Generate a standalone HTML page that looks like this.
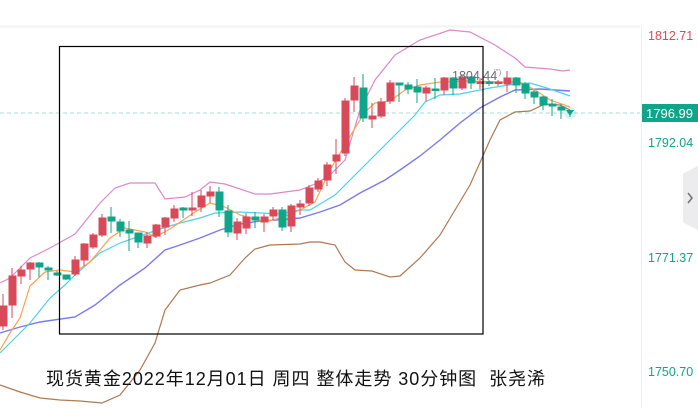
<!DOCTYPE html>
<html><head><meta charset="utf-8"><style>
html,body{margin:0;padding:0;background:#fff;width:698px;height:408px;overflow:hidden}
svg{display:block}
</style></head><body>
<svg width="698" height="408" viewBox="0 0 698 408" xmlns="http://www.w3.org/2000/svg" font-family="Liberation Sans, Noto Sans CJK SC, sans-serif">
<rect x="0" y="0" width="698" height="26" fill="#fff"/>
<line x1="0" y1="26.5" x2="640" y2="26.5" stroke="#f3f3f5" stroke-width="2"/>
<line x1="641.5" y1="26" x2="641.5" y2="408" stroke="#eeeef0"/>
<line x1="0" y1="113" x2="640" y2="113" stroke="#b6e6dc" stroke-dasharray="4,3" stroke-width="1.2"/>
<polyline fill="none" stroke="#dd88cc" stroke-width="1.2" points="0,283 10,278 30,258 50,248 75,234 100,203 115,188 130,183 155,183 165,199 185,197 200,190 210,182 225,184 255,194 270,194 300,190 315,184 330,175 345,160 360,110 375,80 395,55 420,40 450,30 470,32 495,45 515,58 525,67 550,69 563,71 570,70"/>
<polyline fill="none" stroke="#b07850" stroke-width="1.2" points="0,385 20,392 40,398 60,400 80,401 102,403 120,395 140,370 155,343 165,310 180,290 200,285 210,283 230,275 245,258 255,249 270,245 300,244 310,242 320,242 335,245 345,262 355,270 372,271 390,277 400,276 420,258 440,235 455,210 470,185 490,140 500,120 515,112 530,111 545,104 560,105 570,110"/>
<polyline fill="none" stroke="#7a7af0" stroke-width="1.4" points="0,333 20,327 40,322 75,317 95,305 120,285 145,268 165,250 180,245 200,238 220,230 240,224 260,221 290,219 300,218 320,212 340,205 360,193 385,180 400,170 420,156 440,140 460,123 480,108 500,97 515,90 540,89 570,91"/>
<polyline fill="none" stroke="#4fd0e6" stroke-width="1.2" points="0,353 10,343 30,323 50,298 65,285 75,275 100,253 120,243 140,236 160,229 180,223 200,218 215,213 240,212 260,213 280,214 300,210 310,210 335,195 350,180 370,160 385,145 400,130 415,115 425,102 440,95 460,94 490,88 515,84 530,83 550,89 570,96"/>
<polyline fill="none" stroke="#ffa050" stroke-width="1.2" points="0,350 10,333 20,318 30,286 45,272 60,270 75,272 90,262 110,238 125,228 145,232 155,237 170,229 195,212 210,203 225,207 240,215 265,222 280,218 300,210 315,202 330,170 345,145 355,128 365,112 375,103 390,101 405,90 420,85 440,82 470,81 500,82 520,82 535,90 550,100 570,107"/>
<g id="c">
<g stroke="#d84a5a" fill="#d84a5a">
<line x1="3" y1="294" x2="3" y2="330"/><rect x="0" y="306" width="7" height="20"/>
<line x1="12" y1="268" x2="12" y2="318"/><rect x="9" y="276" width="7" height="29"/>
<line x1="21" y1="266" x2="21" y2="284"/><rect x="18" y="270" width="7" height="6"/>
<line x1="30" y1="262" x2="30" y2="280"/><rect x="27" y="263" width="7" height="6"/>
<line x1="75" y1="256" x2="75" y2="276"/><rect x="72" y="260" width="7" height="14"/>
<line x1="84" y1="243" x2="84" y2="266"/><rect x="81" y="244" width="7" height="16"/>
<line x1="93" y1="233" x2="93" y2="249"/><rect x="90" y="235" width="7" height="12"/>
<line x1="102" y1="214" x2="102" y2="237"/><rect x="99" y="218" width="7" height="17"/>
<line x1="147" y1="232" x2="147" y2="248"/><rect x="144" y="236" width="7" height="7"/>
<line x1="156" y1="224" x2="156" y2="238"/><rect x="153" y="225" width="7" height="11"/>
<line x1="165" y1="217" x2="165" y2="235"/><rect x="162" y="218" width="7" height="9"/>
<line x1="174" y1="205" x2="174" y2="222"/><rect x="171" y="209" width="7" height="9"/>
<line x1="192" y1="192" x2="192" y2="216"/><rect x="189" y="208" width="7" height="2"/>
<line x1="201" y1="190" x2="201" y2="212"/><rect x="198" y="196" width="7" height="11"/>
<line x1="210" y1="186" x2="210" y2="203"/><rect x="207" y="192" width="7" height="4"/>
<line x1="237" y1="218" x2="237" y2="240"/><rect x="234" y="222" width="7" height="11"/>
<line x1="246" y1="213" x2="246" y2="234"/><rect x="243" y="217" width="7" height="11"/>
<line x1="264" y1="214" x2="264" y2="232"/><rect x="261" y="217" width="7" height="5"/>
<line x1="273" y1="207" x2="273" y2="220"/><rect x="270" y="210" width="7" height="6"/>
<line x1="291" y1="204" x2="291" y2="232"/><rect x="288" y="206" width="7" height="20"/>
<line x1="300" y1="200" x2="300" y2="215"/><rect x="297" y="204" width="7" height="3"/>
<line x1="309" y1="185" x2="309" y2="206"/><rect x="306" y="188" width="7" height="15"/>
<line x1="318" y1="178" x2="318" y2="192"/><rect x="315" y="181" width="7" height="8"/>
<line x1="327" y1="162" x2="327" y2="186"/><rect x="324" y="165" width="7" height="15"/>
<line x1="336" y1="139" x2="336" y2="174"/><rect x="333" y="155" width="7" height="6"/>
<line x1="345" y1="98" x2="345" y2="156"/><rect x="342" y="101" width="7" height="52"/>
<line x1="354" y1="77" x2="354" y2="112"/><rect x="351" y="86" width="7" height="14"/>
<line x1="372" y1="103" x2="372" y2="128"/><rect x="369" y="116" width="7" height="3"/>
<line x1="381" y1="98" x2="381" y2="118"/><rect x="378" y="102" width="7" height="14"/>
<line x1="390" y1="80" x2="390" y2="104"/><rect x="387" y="83" width="7" height="18"/>
<line x1="426" y1="86" x2="426" y2="101"/><rect x="423" y="88" width="7" height="5"/>
<line x1="444" y1="77" x2="444" y2="95"/><rect x="441" y="78" width="7" height="12"/>
<line x1="462" y1="75" x2="462" y2="90"/><rect x="459" y="77" width="7" height="11"/>
<line x1="480" y1="78" x2="480" y2="89"/><rect x="477" y="82" width="7" height="1.5"/>
<line x1="498" y1="80" x2="498" y2="86"/><rect x="495" y="82" width="7" height="1.5"/>
<line x1="507" y1="71" x2="507" y2="92"/><rect x="504" y="78" width="7" height="6"/>
</g>
<g stroke="#0fa58a" fill="#0fa58a">
<line x1="39" y1="262" x2="39" y2="277"/><rect x="36" y="263" width="7" height="4"/>
<line x1="48" y1="266" x2="48" y2="280"/><rect x="45" y="268" width="7" height="2"/>
<line x1="57" y1="271" x2="57" y2="276"/><rect x="54" y="273" width="7" height="2"/>
<line x1="66" y1="275" x2="66" y2="280"/><rect x="63" y="275" width="7" height="4"/>
<line x1="111" y1="207" x2="111" y2="233"/><rect x="108" y="217" width="7" height="4"/>
<line x1="120" y1="219" x2="120" y2="237"/><rect x="117" y="222" width="7" height="9"/>
<line x1="129" y1="221" x2="129" y2="251"/><rect x="126" y="230" width="7" height="3"/>
<line x1="138" y1="233" x2="138" y2="248"/><rect x="135" y="233" width="7" height="9"/>
<line x1="183" y1="207" x2="183" y2="218"/><rect x="180" y="208" width="7" height="2"/>
<line x1="219" y1="187" x2="219" y2="217"/><rect x="216" y="192" width="7" height="18"/>
<line x1="228" y1="205" x2="228" y2="237"/><rect x="225" y="211" width="7" height="21"/>
<line x1="255" y1="212" x2="255" y2="228"/><rect x="252" y="217" width="7" height="3"/>
<line x1="282" y1="207" x2="282" y2="231"/><rect x="279" y="210" width="7" height="17"/>
<line x1="363" y1="74" x2="363" y2="122"/><rect x="360" y="88" width="7" height="30"/>
<line x1="399" y1="83" x2="399" y2="102"/><rect x="396" y="83" width="7" height="2"/>
<line x1="408" y1="82" x2="408" y2="94"/><rect x="405" y="85" width="7" height="4"/>
<line x1="417" y1="79" x2="417" y2="103"/><rect x="414" y="87" width="7" height="5"/>
<line x1="435" y1="78" x2="435" y2="99"/><rect x="432" y="89" width="7" height="1.5"/>
<line x1="453" y1="77" x2="453" y2="95"/><rect x="450" y="78" width="7" height="10"/>
<line x1="471" y1="76" x2="471" y2="89"/><rect x="468" y="77" width="7" height="6"/>
<line x1="489" y1="80" x2="489" y2="86"/><rect x="486" y="82" width="7" height="1.5"/>
<line x1="516" y1="77" x2="516" y2="93"/><rect x="513" y="78" width="7" height="7"/>
<line x1="525" y1="82" x2="525" y2="99"/><rect x="522" y="84" width="7" height="9"/>
<line x1="534" y1="90" x2="534" y2="104"/><rect x="531" y="92" width="7" height="5"/>
<line x1="543" y1="96" x2="543" y2="110"/><rect x="540" y="97" width="7" height="8"/>
<line x1="552" y1="99" x2="552" y2="116"/><rect x="549" y="104" width="7" height="2"/>
<line x1="561" y1="104" x2="561" y2="119"/><rect x="558" y="107" width="7" height="3"/>
<line x1="570" y1="110" x2="570" y2="117"/>
</g>
<circle cx="570" cy="113" r="6" fill="#0fa58a" opacity="0.15"/>
<path d="M566,110 L574,110 L570,116 Z" fill="#0fa58a"/>
</g>
<text x="452" y="80" font-size="12.5" fill="#6a6a75">1804.44</text>
<text x="494" y="75" font-size="8" fill="#8a8a95">''')</text>
<rect x="59.5" y="46.5" width="423.5" height="287.5" fill="none" stroke="#000" stroke-width="1.2"/>
<text x="46" y="385" font-size="18" fill="#111" textLength="499" lengthAdjust="spacing" xml:space="preserve">现货黄金2022年12月01日 周四 整体走势 30分钟图&#160;&#160;张尧浠</text>
<text x="648" y="40" font-size="12.5" fill="#d84a5a">1812.71</text>
<rect x="642" y="104" width="56" height="18" fill="#0fa58a"/>
<text x="646" y="118" font-size="13" fill="#fff">1796.99</text>
<text x="648" y="147" font-size="12.5" fill="#0fa58a">1792.04</text>
<text x="648" y="262" font-size="12.5" fill="#0fa58a">1771.37</text>
<text x="648" y="376" font-size="12.5" fill="#0fa58a">1750.70</text>
<path d="M698,166 L686,172 L683,174 L683,222 L686,224 L698,230 Z" fill="#ececef"/>
<path d="M688,193 L692,198 L688,203" fill="none" stroke="#707078" stroke-width="1.5"/>
</svg>
</body></html>
